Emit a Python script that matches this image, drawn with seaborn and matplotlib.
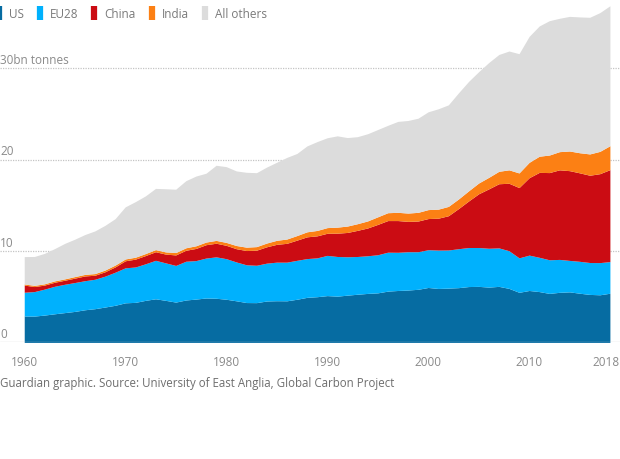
import matplotlib
matplotlib.use("Agg")
import matplotlib.pyplot as plt
from matplotlib.lines import Line2D
from matplotlib import transforms
import seaborn as sns
import numpy as np

years = list(range(1960, 2019))
us = [2.89, 2.88, 2.99, 3.13, 3.26, 3.39, 3.57, 3.69, 3.87, 4.06,
      4.33, 4.38, 4.60, 4.77, 4.60, 4.41, 4.64, 4.74, 4.86, 4.83,
      4.72, 4.55, 4.36, 4.35, 4.53, 4.56, 4.55, 4.72, 4.93, 5.00,
      5.12, 5.06, 5.17, 5.27, 5.36, 5.42, 5.61, 5.68, 5.73, 5.81,
      6.01, 5.90, 5.94, 5.99, 6.11, 6.13, 6.05, 6.13, 5.91, 5.48,
      5.68, 5.56, 5.36, 5.48, 5.53, 5.38, 5.25, 5.21, 5.38]
eu28 = [2.60, 2.68, 2.84, 3.01, 3.10, 3.16, 3.18, 3.22, 3.38, 3.62,
        3.83, 3.87, 4.00, 4.21, 4.10, 4.01, 4.24, 4.21, 4.37, 4.53,
        4.44, 4.25, 4.13, 4.09, 4.14, 4.22, 4.23, 4.26, 4.24, 4.25,
        4.40, 4.34, 4.20, 4.13, 4.12, 4.17, 4.26, 4.18, 4.19, 4.11,
        4.13, 4.20, 4.17, 4.26, 4.27, 4.25, 4.25, 4.21, 4.12, 3.77,
        3.87, 3.75, 3.68, 3.60, 3.44, 3.49, 3.49, 3.52, 3.46]
china = [0.78, 0.55, 0.44, 0.44, 0.44, 0.48, 0.52, 0.44, 0.48, 0.58,
         0.77, 0.86, 0.90, 0.94, 0.96, 1.15, 1.20, 1.33, 1.46, 1.49,
         1.46, 1.45, 1.56, 1.65, 1.79, 1.95, 2.06, 2.21, 2.38, 2.41,
         2.42, 2.55, 2.66, 2.86, 3.04, 3.32, 3.46, 3.47, 3.32, 3.36,
         3.41, 3.49, 3.75, 4.39, 5.09, 5.88, 6.50, 7.02, 7.38, 7.69,
         8.47, 9.29, 9.54, 9.80, 9.82, 9.68, 9.55, 9.73, 10.06]
india = [0.12, 0.13, 0.14, 0.15, 0.15, 0.17, 0.17, 0.18, 0.19, 0.20,
         0.20, 0.21, 0.22, 0.23, 0.24, 0.26, 0.27, 0.29, 0.29, 0.31,
         0.32, 0.35, 0.37, 0.39, 0.41, 0.44, 0.47, 0.50, 0.55, 0.59,
         0.62, 0.66, 0.70, 0.73, 0.77, 0.83, 0.86, 0.90, 0.91, 0.95,
         0.98, 0.99, 1.02, 1.05, 1.11, 1.18, 1.26, 1.36, 1.47, 1.60,
         1.68, 1.77, 1.92, 1.99, 2.15, 2.20, 2.33, 2.44, 2.62]
others = [3.00, 3.16, 3.33, 3.53, 3.88, 4.09, 4.36, 4.67, 4.89, 5.08,
          5.70, 6.08, 6.31, 6.70, 6.91, 6.93, 7.34, 7.63, 7.53, 8.22,
          8.29, 8.16, 8.19, 8.09, 8.31, 8.54, 8.93, 8.98, 9.40, 9.72,
          9.83, 9.99, 9.68, 9.52, 9.54, 9.55, 9.56, 9.95, 10.13, 10.30,
          10.70, 10.98, 11.11, 11.61, 11.97, 12.18, 12.56, 12.78, 13.00, 13.05,
          13.78, 14.25, 14.70, 14.59, 14.73, 14.86, 14.95, 15.18, 15.31]

series_names = ["US", "EU28", "China", "India", "All others"]
colors = ["#066ca2", "#00b1fd", "#cb0c13", "#fc8014", "#dcdcdc"]
xticks = [1960, 1970, 1980, 1990, 2000, 2010, 2018]
yticks = [0, 10, 20, 30]
ytick_labels = ["0", "10", "20", "30bn tonnes"]
source = "Guardian graphic. Source: University of East Anglia, Global Carbon Project"

sns.set_style("white")
plt.rcParams["font.family"] = ["Open Sans", "DejaVu Sans"]

W, H = 620, 460
fig = plt.figure(figsize=(W / 100, H / 100), dpi=100)
base_y = 343.4
ax = fig.add_axes([0, (H - base_y) / H, 1, base_y / H])
ax.set_xlim(1957.6, 2019.0)
ax.set_ylim(0, base_y / 9.14)

# gridlines (dotted) behind
for yv in yticks[1:]:
    ax.axhline(yv, color="#c4c4c4", lw=0.9, ls=(0, (1, 1)), zorder=0)

ax.stackplot(years, us, eu28, china, india, others, colors=colors,
             linewidth=0, zorder=1)
ax.axhline(0, color="#c8c8c8", lw=0.9, zorder=3)

sns.despine(ax=ax, left=True, bottom=True, top=True, right=True)
ax.set_yticks([])
ax.set_xticks(xticks)
ax.set_xticklabels([str(x) for x in xticks])
ax.tick_params(axis="x", length=5, width=0.8, color="#cccccc",
               labelsize=8.5, labelcolor="#8a8a8a", pad=4)
last = ax.get_xticklabels()[-1]
last.set_transform(last.get_transform() + transforms.ScaledTranslation(-4 / 100, 0, fig.dpi_scale_trans))

trans = transforms.blended_transform_factory(ax.transAxes, ax.transData)
for yv, lab in zip(yticks, ytick_labels):
    ax.text(0.0, yv + 0.25, lab, transform=trans, ha="left", va="bottom",
            fontsize=8.5, color="#8a8a8a", zorder=4)

handles = [Line2D([0], [0], marker="|", linestyle="none", markersize=10,
                  markeredgewidth=4.5, color=c) for c in colors]
leg = fig.legend(handles, series_names, loc="upper left",
                 bbox_to_anchor=(-0.012, 0.99), ncol=5, frameon=False,
                 fontsize=8.5, handlelength=0.5, handletextpad=0.6,
                 columnspacing=1.1, borderaxespad=0, borderpad=0.3)
for t in leg.get_texts():
    t.set_color("#7a7a7a")

fig.text(0.0, 1 - 384 / H, source, ha="left", va="center", fontsize=8.3,
         color="#6e6e6e")

fig.savefig("out.png", dpi=100, facecolor="white")
